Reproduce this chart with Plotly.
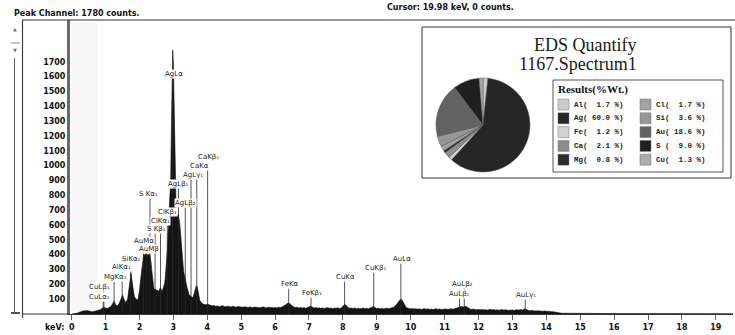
import numpy as np
import plotly.graph_objects as go

# ---------------- spectrum (counts per channel, read in three energy bands) ----------------
E_LOW = np.round(np.arange(0.0, 1.90 + 1e-9, 0.05), 2)
COUNTS_LOW = [0, 0, 2, 5, 9, 14, 19, 22, 21, 24,
              20, 17, 15, 17, 19, 23, 26, 31, 38, 46,
              41, 37, 43, 49, 66, 86, 61, 54, 71, 101,
              128, 96, 76, 102, 212, 276, 188, 116, 101]

E_MID = np.round(np.arange(1.92, 3.90 + 1e-9, 0.02), 2)
COUNTS_MID = [98, 94, 104, 122, 158, 205, 252, 298, 345, 380,
              398, 392, 404, 396, 408, 401, 393, 405, 398, 402,
              385, 350, 300, 245, 205, 178, 162, 170, 158, 164,
              155, 162, 150, 158, 168, 178, 166, 152, 160, 172,
              185, 205, 240, 290, 350, 430, 530, 630, 700, 770,
              900, 1240, 1610, 1780, 1690, 1430, 1060, 790, 700, 672,
              660, 668, 652, 625, 575, 505, 435, 372, 322, 292,
              268, 252, 226, 204, 182, 160, 146, 132, 126, 121,
              118, 114, 111, 116, 126, 142, 162, 182, 192, 186,
              160, 132, 106, 92, 84, 77, 73, 70, 67, 64]

E_HIGH = np.round(np.arange(3.95, 14.50 + 1e-9, 0.05), 2)
COUNTS_HIGH = [62,
               66, 62, 58, 55, 57, 52, 54, 50, 53, 56, 51, 49, 53, 50, 47, 52, 49, 46, 50, 48,
               47, 45, 49, 46, 44, 48, 45, 43, 47, 44, 46, 42, 45, 48, 44, 41, 45, 43, 46, 42,
               44, 41, 45, 43, 47, 52, 60, 70, 74, 66, 55, 47, 43, 46, 41, 44, 40, 43, 39, 42,
               44, 52, 46, 40, 43, 39, 42, 38, 41, 37, 40, 43, 38, 41, 36, 40, 38, 42, 37, 40,
               52, 64, 58, 44, 39, 41, 37, 40, 36, 39, 35, 38, 41, 36, 39, 35, 38, 44, 50, 40,
               36, 39, 35, 38, 34, 37, 40, 36, 39, 42, 46, 55, 68, 85, 100, 92, 70, 50, 40, 36,
               34, 37, 33, 36, 32, 35, 31, 34, 37, 32, 35, 31, 34, 30, 33, 36, 31, 34, 30, 33,
               31, 34, 30, 33, 36, 32, 35, 38, 42, 48, 50, 47, 52, 49, 40, 34, 30, 33, 29, 32,
               30, 28, 31, 27, 30, 26, 29, 32, 27, 30, 26, 29, 25, 28, 31, 26, 29, 25, 28, 26,
               27, 24, 28, 25, 27, 30, 26, 35, 30, 25, 22, 24, 21, 23, 20, 22, 19, 21, 18, 20,
               18, 17, 19, 16, 15, 12, 9, 7, 6, 5, 5]

E_TAIL = np.round(np.arange(14.75, 19.75 + 1e-9, 0.25), 2)
COUNTS_TAIL = [4, 4, 4, 3, 3, 3, 3, 3, 3, 3, 2, 2, 2, 2, 2, 2, 2, 2, 2, 2, 2]

for e, c in [(E_LOW, COUNTS_LOW), (E_MID, COUNTS_MID), (E_HIGH, COUNTS_HIGH), (E_TAIL, COUNTS_TAIL)]:
    assert len(e) == len(c), (len(e), len(c))

energy = np.concatenate([E_LOW, E_MID, E_HIGH, E_TAIL])
counts = np.concatenate([COUNTS_LOW, COUNTS_MID, COUNTS_HIGH, COUNTS_TAIL])

# ---------------- KLM line markers ----------------
LINE_NAMES = ["CuLα₁", "CuLβ₁", "MgKα₁", "AlKα₁", "SiKα₁", "AuMα", "AuMβ",
              "S Kα₁", "S Kβ₁", "ClKα₁", "ClKβ₁", "AgLα", "AgLβ₁", "AgLβ₂",
              "AgLγ₁", "CaKα", "CaKβ₁", "FeKα", "FeKβ₁", "CuKα", "CuKβ₁",
              "AuLα", "AuLβ₂", "AuLβ₁", "AuLγ₁"]
LINE_KEV = [0.93, 0.95, 1.25, 1.49, 1.74, 2.12, 2.20,
            2.31, 2.46, 2.62, 2.82, 2.98, 3.15, 3.35,
            3.52, 3.69, 4.01, 6.40, 7.06, 8.05, 8.91,
            9.71, 11.58, 11.44, 13.38]
LABEL_KEV = [0.81, 0.81, 1.28, 1.48, 1.75, 2.13, 2.28,
             2.28, 2.49, 2.63, 2.84, 3.02, 3.14, 3.37,
             3.58, 3.76, 4.05, 6.44, 7.09, 8.09, 8.95,
             9.74, 11.54, 11.45, 13.40]
LABEL_COUNTS = [115, 182, 249, 317, 371, 492, 438,
                809, 573, 627, 687, 1617, 876, 748,
                937, 997, 1058, 202, 142, 249, 310,
                371, 202, 135, 128]

# ---------------- quantification result ----------------
ELEMENTS = ["Al", "Ag", "Fe", "Ca", "Mg", "Cl", "Si", "Au", "S", "Cu"]
WT_PCT = [1.7, 60.0, 1.2, 2.1, 0.8, 1.7, 3.6, 18.6, 9.0, 1.3]
EL_COLORS = ["#cbcbcb", "#262626", "#d2d2d2", "#8e8e8e", "#2d2d2d",
             "#a2a2a2", "#969696", "#626262", "#1f1f1f", "#ababab"]

PEAK_COUNTS = 1780
CURSOR_KEV = 19.98
CURSOR_COUNTS = 0
SPECTRUM_NAME = "1167.Spectrum1"

X_TICKS = list(range(0, 20))
Y_TICKS = list(range(100, 1800, 100))

# ---------------- layout geometry ----------------
W_PX, H_PX = 735, 335
L, R, T, B = 70, 733, 20, 314
PW, PH = R - L, B - T


def fx(x):
    return (x - L) / PW


def fy(y):
    return (B - y) / PH


def paper_text(x, y, text, font, xanchor="center"):
    return dict(x=fx(x), y=fy(y), xref="paper", yref="paper", xanchor=xanchor, yanchor="middle",
                text=text, showarrow=False, font=font)


BOLD = dict(family="DejaVu Sans", size=8, color="#111111", weight="bold")

fig = go.Figure()

fig.add_trace(go.Scatter(
    x=energy, y=counts, mode="lines", fill="tozeroy",
    line=dict(color="#111111", width=0.6), fillcolor="#141414",
    hoverinfo="skip", showlegend=False))

# marker lines: from just under each label down to the axis
mx, my = [], []
for e, c in zip(LINE_KEV, LABEL_COUNTS):
    mx += [e, e, None]
    my += [c - 30, 0, None]
fig.add_trace(go.Scatter(x=mx, y=my, mode="lines",
                         line=dict(color="#2a2a2a", width=0.8),
                         hoverinfo="skip", showlegend=False))

annotations = []
for name, xk, yc in zip(LINE_NAMES, LABEL_KEV, LABEL_COUNTS):
    annotations.append(dict(x=xk, y=yc, xref="x", yref="y", text=name, showarrow=False,
                            xanchor="center", yanchor="middle",
                            font=dict(family="DejaVu Sans", size=7, color="#262626"),
                            bgcolor="white", borderpad=0))

# headers
annotations.append(paper_text(12, 13, f"Peak Channel: {PEAK_COUNTS} counts.", BOLD, "left"))
annotations.append(paper_text(385, 8, f"Cursor: {CURSOR_KEV:.2f} keV, {CURSOR_COUNTS} counts.", BOLD, "left"))
annotations.append(paper_text(67, 327, "keV:", BOLD, "right"))
# scroll arrows of the side panel
for yy, ch in [(29, "▲"), (50, "▼")]:
    annotations.append(paper_text(15, yy, ch, dict(family="DejaVu Sans", size=5, color="#777")))

# inset titles
SERIF = dict(family="Liberation Serif", size=18, color="#1a1a1a")
annotations.append(paper_text(585, 45, "EDS Quantify", SERIF))
annotations.append(paper_text(578, 64, SPECTRUM_NAME, SERIF))
annotations.append(paper_text(556, 89, "Results(%Wt.)",
                              dict(family="Liberation Serif", size=11, color="#111", weight="bold"), "left"))

shapes = []
# frame and side panel
shapes.append(dict(type="line", xref="paper", yref="paper", x0=fx(22), x1=fx(735), y0=fy(20), y1=fy(20),
                   line=dict(color="#333", width=1)))
shapes.append(dict(type="line", xref="paper", yref="paper", x0=fx(22.5), x1=fx(22.5), y0=fy(20), y1=fy(318),
                   line=dict(color="#444", width=1.2)))
shapes.append(dict(type="line", xref="paper", yref="paper", x0=fx(14.5), x1=fx(14.5), y0=fy(58), y1=fy(312),
                   line=dict(color="#666", width=1)))
shapes.append(dict(type="line", xref="paper", yref="paper", x0=fx(22), x1=fx(70), y0=fy(314), y1=fy(314),
                   line=dict(color="#333", width=1)))
shapes.append(dict(type="line", xref="paper", yref="paper", x0=fx(11), x1=fx(20), y0=fy(313), y1=fy(313),
                   line=dict(color="#555", width=2)))
shapes.append(dict(type="line", xref="paper", yref="paper", x0=fx(11), x1=fx(20), y0=fy(43), y1=fy(43),
                   line=dict(color="#888", width=1)))
shapes.append(dict(type="rect", xref="paper", yref="paper", x0=fx(71.5), x1=fx(97), y0=fy(22), y1=fy(311),
                   line=dict(width=0), fillcolor="#f6f6f6", layer="below"))
# inset box and legend box
shapes.append(dict(type="rect", xref="paper", yref="paper", x0=fx(422), x1=fx(731), y0=fy(27), y1=fy(178),
                   line=dict(color="#333", width=1), fillcolor="white", layer="below"))
shapes.append(dict(type="rect", xref="paper", yref="paper", x0=fx(553), x1=fx(723), y0=fy(80), y1=fy(172),
                   line=dict(color="#555", width=1)))

MONO = dict(family="Liberation Mono", size=7.5, color="#222", weight="bold")
for i, (el, pct, col) in enumerate(zip(ELEMENTS, WT_PCT, EL_COLORS)):
    column, row = divmod(i, 5)
    sx = 558 if column == 0 else 640
    cy = 104.5 + 13.8 * row
    shapes.append(dict(type="rect", xref="paper", yref="paper", x0=fx(sx), x1=fx(sx + 11),
                       y0=fy(cy + 5.5), y1=fy(cy - 5.5), fillcolor=col, line=dict(color="#777", width=0.5)))
    label = f"{el:<2}({pct:5.1f} %)".replace(" ", "\u00a0")
    annotations.append(paper_text(sx + 14, cy, label, MONO, "left"))

fig.add_trace(go.Pie(
    values=WT_PCT, labels=ELEMENTS, sort=False, direction="clockwise", rotation=0,
    marker=dict(colors=EL_COLORS, line=dict(color="#555", width=0.5)),
    textinfo="none", hoverinfo="label+percent", showlegend=False,
    domain=dict(x=[fx(436), fx(530)], y=[fy(172), fy(78)])))

fig.update_layout(
    width=W_PX, height=H_PX,
    margin=dict(l=L, r=W_PX - R, t=T, b=H_PX - B),
    paper_bgcolor="white", plot_bgcolor="rgba(0,0,0,0)",
    showlegend=False,
    annotations=annotations, shapes=shapes,
    xaxis=dict(range=[-0.05, -0.05 + PW / 33.9], tickvals=X_TICKS, ticktext=[str(v) for v in X_TICKS],
               tickfont=BOLD, ticks="outside", ticklen=5, tickcolor="#666", tickwidth=1,
               showline=True, linecolor="#333", linewidth=1, showgrid=False, zeroline=False),
    yaxis=dict(range=[0, PH / 0.1484], tickvals=Y_TICKS, ticktext=[str(v) for v in Y_TICKS],
               tickfont=BOLD, ticks="", showline=True, linecolor="#6a6a6a", linewidth=3,
               showgrid=False, zeroline=False),
)

fig.write_html("out.html")
